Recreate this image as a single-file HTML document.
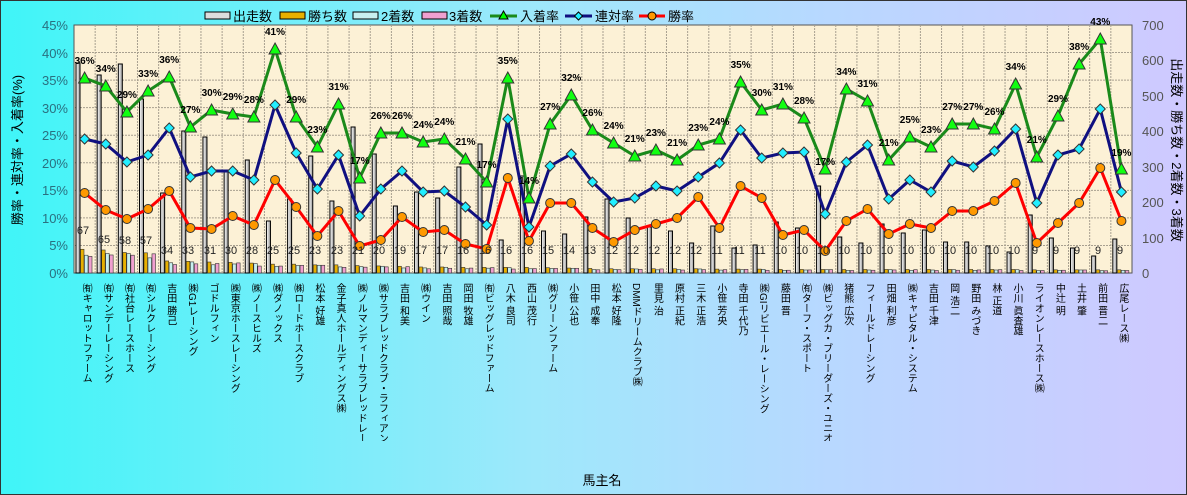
<!DOCTYPE html>
<html><head><meta charset="utf-8">
<style>
html,body{margin:0;padding:0}
body{width:1187px;height:495px;overflow:hidden;font-family:"Liberation Sans","Noto Sans CJK JP",sans-serif}
#wrap{position:absolute;left:0;top:0;width:1185px;height:493px;border:1px solid #333;background:linear-gradient(90deg,#3ff5f8 0%,#9ee8fb 45%,#b8d8ff 70%,#cfc9ff 100%)}
#xl{position:absolute;left:74px;top:282px;width:1060px;display:flex}
#xl div{width:21.16px;writing-mode:vertical-rl;font-size:10px;line-height:21.16px;color:#000;white-space:nowrap;height:158px;overflow:hidden}
</style></head><body>
<div id="wrap">
<svg id="s" width="1187" height="495" style="position:absolute;left:-1px;top:-1px">
<rect x="74" y="25" width="1058" height="248" fill="#fcf1d6" stroke="#555"/>
<g id="grid"></g><g id="bars"></g><g id="lines"></g>
<g font-size="13" fill="#2a7080" text-anchor="end">
<text x="68" y="30">45%</text><text x="68" y="58">40%</text><text x="68" y="85">35%</text><text x="68" y="113">30%</text><text x="68" y="140">25%</text><text x="68" y="168">20%</text><text x="68" y="195">15%</text><text x="68" y="223">10%</text><text x="68" y="250">5%</text><text x="68" y="278">0%</text></g>
<g font-size="13" fill="#555" text-anchor="start">
<text x="1142" y="30">700</text><text x="1142" y="65">600</text><text x="1142" y="101">500</text><text x="1142" y="136">400</text><text x="1142" y="172">300</text><text x="1142" y="207">200</text><text x="1142" y="243">100</text><text x="1142" y="278">0</text></g>
<text transform="translate(22,150) rotate(-90)" font-size="13" text-anchor="middle" fill="#000">勝率・連対率・入着率(%)</text>
<text transform="translate(1172,150) rotate(90)" font-size="13" text-anchor="middle" fill="#000">出走数・勝ち数・2着数・3着数</text>
<text x="602" y="485" font-size="13" text-anchor="middle" fill="#000">馬主名</text>
<g font-size="13" fill="#000">
<rect x="205" y="12" width="25" height="7" fill="#ddd" stroke="#000"/><text x="233" y="21">出走数</text>
<rect x="280" y="12" width="25" height="7" fill="#e8b000" stroke="#000"/><text x="308" y="21">勝ち数</text>
<rect x="353" y="12" width="25" height="7" fill="#c8f0f0" stroke="#000"/><text x="381" y="21">2着数</text>
<rect x="422" y="12" width="25" height="7" fill="#f0a0d0" stroke="#000"/><text x="449" y="21">3着数</text>
<line x1="490" y1="16" x2="517" y2="16" stroke="#1a8a1a" stroke-width="3"/><polygon points="503.5,11 508,19 499,19" fill="#0f0" stroke="#000"/><text x="520" y="21">入着率</text>
<line x1="565" y1="16" x2="592" y2="16" stroke="#101080" stroke-width="3"/><polygon points="578.5,12 582.5,16 578.5,20 574.5,16" fill="#2ef" stroke="#000"/><text x="595" y="21">連対率</text>
<line x1="639" y1="16" x2="665" y2="16" stroke="#f00" stroke-width="3"/><circle cx="652" cy="16" r="4" fill="#f90" stroke="#000"/><text x="668" y="21">勝率</text>
</g>
<g font-size="10" font-weight="bold" fill="#000" text-anchor="middle">
<text x="84.6" y="64">36%</text><text x="105.8" y="72">34%</text><text x="126.9" y="98">29%</text><text x="148.1" y="77">33%</text><text x="169.2" y="63">36%</text><text x="190.4" y="113">27%</text><text x="211.6" y="96">30%</text><text x="232.7" y="100">29%</text><text x="253.9" y="103">28%</text><text x="275" y="35">41%</text><text x="296.2" y="103">29%</text><text x="317.4" y="133">23%</text><text x="338.5" y="90">31%</text><text x="359.7" y="164">17%</text><text x="380.8" y="119">26%</text><text x="402" y="119">26%</text><text x="423.2" y="128">24%</text><text x="444.3" y="125">24%</text><text x="465.5" y="145">21%</text><text x="486.6" y="168">17%</text><text x="507.8" y="64">35%</text><text x="529" y="184">14%</text><text x="550.1" y="110">27%</text><text x="571.3" y="81">32%</text><text x="592.4" y="116">26%</text><text x="613.6" y="129">24%</text><text x="634.8" y="142">21%</text><text x="655.9" y="136">23%</text><text x="677.1" y="146">21%</text><text x="698.2" y="131">23%</text><text x="719.4" y="125">24%</text><text x="740.6" y="68">35%</text><text x="761.7" y="96">30%</text><text x="782.9" y="90">31%</text><text x="804" y="104">28%</text><text x="825.2" y="165">17%</text><text x="846.4" y="75">34%</text><text x="867.5" y="87">31%</text><text x="888.7" y="146">21%</text><text x="909.8" y="123">25%</text><text x="931" y="133">23%</text><text x="952.2" y="110">27%</text><text x="973.3" y="110">27%</text><text x="994.5" y="115">26%</text><text x="1015.6" y="70">34%</text><text x="1036.8" y="143">21%</text><text x="1058" y="102">29%</text><text x="1079.1" y="50">38%</text><text x="1100.3" y="25">43%</text><text x="1121.4" y="156">19%</text>
</g>
<g font-size="11" fill="#222" text-anchor="middle">
<text x="83" y="234">67</text><text x="104" y="243">65</text><text x="125" y="244">58</text><text x="146" y="244">57</text><text x="167" y="254">34</text><text x="188" y="254">33</text><text x="210" y="254">31</text><text x="231" y="254">30</text><text x="252" y="254">28</text><text x="273" y="254">25</text><text x="294" y="254">25</text><text x="315" y="254">23</text><text x="337" y="254">23</text><text x="358" y="254">21</text><text x="379" y="254">20</text><text x="400" y="254">19</text><text x="421" y="254">17</text><text x="442" y="254">17</text><text x="463" y="254">16</text><text x="485" y="254">16</text><text x="506" y="254">16</text><text x="527" y="254">16</text><text x="548" y="254">15</text><text x="569" y="254">14</text><text x="590" y="254">13</text><text x="612" y="254">12</text><text x="633" y="254">12</text><text x="654" y="254">12</text><text x="675" y="254">12</text><text x="696" y="254">12</text><text x="717" y="254">11</text><text x="739" y="254">11</text><text x="760" y="254">11</text><text x="781" y="254">10</text><text x="802" y="254">10</text><text x="823" y="254">10</text><text x="844" y="254">10</text><text x="866" y="254">10</text><text x="887" y="254">10</text><text x="908" y="254">10</text><text x="929" y="254">10</text><text x="950" y="254">10</text><text x="971" y="254">10</text><text x="993" y="254">10</text><text x="1014" y="254">10</text><text x="1035" y="254">9</text><text x="1056" y="254">9</text><text x="1077" y="254">9</text><text x="1098" y="254">9</text><text x="1120" y="254">9</text>
</g>
</svg>
<div id="xl">
<div>㈲キャロットファーム</div><div>㈲サンデーレーシング</div><div>㈲社台レースホース</div><div>㈲シルクレーシング</div><div>吉田 勝己</div><div>㈱G1レーシング</div><div>ゴドルフィン</div><div>㈱東京ホースレーシング</div><div>㈱ノースヒルズ</div><div>㈱ダノックス</div><div>㈱ロードホースクラブ</div><div>松本 好雄</div><div>金子真人ホールディングス㈱</div><div>㈱ノルマンディーサラブレッドレーシ…</div><div>㈱サラブレッドクラブ・ラフィアン</div><div>吉田 和美</div><div>㈱ウイン</div><div>吉田 照哉</div><div>岡田 牧雄</div><div>㈲ビッグレッドファーム</div><div>八木 良司</div><div>西山 茂行</div><div>㈱グリーンファーム</div><div>小笹 公也</div><div>田中 成奉</div><div>松本 好隆</div><div>DMMドリームクラブ㈱</div><div>里見 治</div><div>原村 正紀</div><div>三木 正浩</div><div>小笹 芳央</div><div>寺田 千代乃</div><div>㈱GIリビエール・レーシング</div><div>藤田 晋</div><div>㈲ターフ・スポート</div><div>㈱ビッグカ・ブリーダーズ・ユニオン</div><div>猪熊 広次</div><div>フィールドレーシング</div><div>田畑 利彦</div><div>㈱キャピタル・システム</div><div>吉田 千津</div><div>岡 浩二</div><div>野田 みづき</div><div>林 正道</div><div>小川 眞査雄</div><div>ライオンレースホース㈱</div><div>中辻 明</div><div>土井 肇</div><div>前田 晋二</div><div>広尾レース㈱</div>
</div>
</div>
<script>
var NS="http://www.w3.org/2000/svg";
function el(p,t,a){var e=document.createElementNS(NS,t);for(var k in a)e.setAttribute(k,a[k]);p.appendChild(e);return e;}
var G=document.getElementById('grid'),B=document.getElementById('bars'),L=document.getElementById('lines');
for(var i=1;i<9;i++){var y=25+i*27.56;el(G,'line',{x1:74,x2:1132,y1:y,y2:y,stroke:'#a8a090','stroke-dasharray':'2,1','stroke-width':1});}
for(var i=1;i<50;i++){var x=74+i*21.16;el(G,'line',{x1:x,x2:x,y1:25,y2:273,stroke:'#a8a090','stroke-dasharray':'2,1','stroke-width':1});}
var gr=[78,86,112,91,77,127,110,114,117,49,117,147,104,178,133,133,142,139,159,182,78,198,124,95,130,143,156,150,160,145,139,82,110,104,118,169,89,101,160,137,147,124,124,129,84,157,116,64,39,169];
var bl=[139,144,162,155,128,177,171,171,180,105,153,189,155,216,189,171,192,191,207,225,119,227,166,154,182,202,198,186,191,177,163,130,158,153,152,214,162,145,199,180,192,161,167,151,129,203,155,149,109,192];
var rd=[193,210,219,209,191,228,229,216,225,180,207,236,211,246,240,217,232,230,244,249,178,241,203,203,228,242,230,224,218,197,228,186,198,235,230,251,221,209,234,224,228,211,211,201,183,243,223,203,168,221];
var bt=[63,75,64,99,193,131,137,172,160,221,199,156,201,127,154,206,192,198,167,144,240,176,231,234,217,199,218,227,231,243,226,248,245,222,228,186,237,243,224,233,230,242,242,246,252,215,238,248,256,239];
var w=[67,65,58,57,34,33,31,30,28,25,25,23,23,21,20,19,17,17,16,16,16,16,15,14,13,12,12,12,12,12,11,11,11,10,10,10,10,10,10,10,10,10,10,10,10,9,9,9,9,9];
var gd=el(document.getElementById('s'),'defs',{});
var lg=el(gd,'linearGradient',{id:'wb',x1:0,x2:1,y1:0,y2:0});
el(lg,'stop',{offset:0,'stop-color':'#fff'});el(lg,'stop',{offset:1,'stop-color':'#999'});
for(var i=0;i<50;i++){
 var l=74+i*21.16+2, k=0.354;
 el(B,'rect',{x:l,y:bt[i],width:4,height:273-bt[i],fill:'url(#wb)',stroke:'#000','stroke-width':1});
 var h1=w[i]*k,h2=w[i]*k*(0.75+0.2*((i*7)%3)/2),h3=w[i]*k*(0.7+0.25*((i*5)%4)/3);
 el(B,'rect',{x:l+4.5,y:273-h1,width:3.5,height:h1,fill:'#e8b000',stroke:'#333','stroke-width':0.6});
 el(B,'rect',{x:l+8.5,y:273-h2,width:3.5,height:h2,fill:'#c8f0f0',stroke:'#333','stroke-width':0.6});
 el(B,'rect',{x:l+12.5,y:273-h3,width:3.5,height:h3,fill:'#f0a0d0',stroke:'#333','stroke-width':0.6});
}
function pts(a){return a.map(function(v,i){return (84.6+i*21.16)+','+v}).join(' ');}
el(L,'polyline',{points:pts(rd),fill:'none',stroke:'#f00','stroke-width':3});
el(L,'polyline',{points:pts(bl),fill:'none',stroke:'#101080','stroke-width':3});
el(L,'polyline',{points:pts(gr),fill:'none',stroke:'#1a8a1a','stroke-width':3});
for(var i=0;i<50;i++){var x=84.6+i*21.16;
 el(L,'circle',{cx:x,cy:rd[i],r:4.5,fill:'#f90',stroke:'#333'});
 el(L,'polygon',{points:[x,bl[i]-5,x+5,bl[i],x,bl[i]+5,x-5,bl[i]].join(','),fill:'#2ef',stroke:'#333'});
 el(L,'polygon',{points:[x,gr[i]-6,x+6,gr[i]+5,x-6,gr[i]+5].join(','),fill:'#1f1',stroke:'#333'});
}
</script>
</body></html>
